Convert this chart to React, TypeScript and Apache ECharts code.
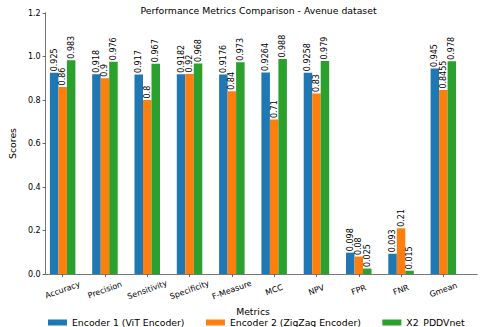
import React, { useEffect, useRef } from "react";
import * as echarts from "echarts";

const categories = ["Accuracy", "Precision", "Sensitivity", "Specificity", "F-Measure", "MCC", "NPV", "FPR", "FNR", "Gmean"];
const encoder1 = [0.925, 0.918, 0.917, 0.9182, 0.9176, 0.9264, 0.9258, 0.098, 0.093, 0.945];
const encoder2 = [0.86, 0.9, 0.8, 0.92, 0.84, 0.71, 0.83, 0.08, 0.21, 0.8455];
const x2pddv = [0.983, 0.976, 0.967, 0.968, 0.973, 0.988, 0.979, 0.025, 0.015, 0.978];
const seriesNames = ["Encoder 1 (ViT Encoder)", "Encoder 2 (ZigZag Encoder)", "X2_PDDVnet"];
const colors = ["#1f77b4", "#ff7f0e", "#2ca02c"];
const yTicks = { min: 0, max: 1.2, interval: 0.2 };

const FONT = "DejaVu Sans";

export default function App() {
  const ref = useRef<HTMLDivElement>(null);
  useEffect(() => {
    if (!ref.current) return;
    const chart = echarts.init(ref.current, undefined, { renderer: "svg" });
    const data = [encoder1, encoder2, x2pddv];
    const frameLine = { show: true, lineStyle: { color: "#777", width: 1 } };
    chart.setOption({
      animation: false,
      backgroundColor: "#ffffff",
      title: {
        text: "Performance Metrics Comparison - Avenue dataset",
        left: 253.5,
        top: 1,
        textAlign: "center",
        textStyle: { fontFamily: FONT, fontSize: 9.3, fontWeight: "normal", color: "#000" },
      },
      legend: {
        left: 43,
        top: 313,
        itemWidth: 19,
        itemHeight: 6,
        itemGap: 21.5,
        icon: "rect",
        textStyle: { fontFamily: FONT, fontSize: 9.3, color: "#000" },
        data: seriesNames,
      },
      grid: [
        { left: 30, right: 3, top: 13, bottom: 53, containLabel: false },
        { left: 41.5, right: 15.5, top: 13, bottom: 53, containLabel: false },
      ],
      xAxis: [
        {
          type: "value",
          gridIndex: 0,
          position: "bottom",
          min: 0,
          max: 1,
          axisLine: frameLine,
          axisTick: { show: false },
          axisLabel: { show: false },
          splitLine: { show: false },
        },
        {
          type: "category",
          gridIndex: 1,
          data: categories,
          name: "Metrics",
          nameLocation: "middle",
          nameGap: 33,
          nameTextStyle: { fontFamily: FONT, fontSize: 9.3, color: "#000" },
          axisLine: { show: false },
          axisTick: { show: true, alignWithLabel: true, length: 3, lineStyle: { color: "#666" } },
          axisLabel: {
            rotate: 20,
            align: "center",
            verticalAlign: "middle",
            margin: 16,
            fontFamily: FONT,
            fontSize: 8,
            color: "#000",
          },
          splitLine: { show: false },
        },
        {
          type: "value",
          gridIndex: 0,
          position: "top",
          min: 0,
          max: 1,
          axisLine: frameLine,
          axisTick: { show: false },
          axisLabel: { show: false },
          splitLine: { show: false },
        },
      ],
      yAxis: [
        {
          type: "value",
          gridIndex: 0,
          position: "left",
          min: yTicks.min,
          max: yTicks.max,
          interval: yTicks.interval,
          name: "Scores",
          nameLocation: "middle",
          nameGap: 24,
          nameTextStyle: { fontFamily: FONT, fontSize: 9.3, color: "#000" },
          axisLine: frameLine,
          axisTick: { show: true, length: 3, lineStyle: { color: "#666" } },
          axisLabel: {
            margin: 5,
            fontFamily: FONT,
            fontSize: 8,
            color: "#000",
            formatter: (v: number) => v.toFixed(1),
          },
          splitLine: { show: false },
        },
        {
          type: "value",
          gridIndex: 1,
          min: yTicks.min,
          max: yTicks.max,
          interval: yTicks.interval,
          show: false,
          splitLine: { show: false },
        },
        {
          type: "value",
          gridIndex: 0,
          position: "right",
          min: yTicks.min,
          max: yTicks.max,
          interval: yTicks.interval,
          axisLine: frameLine,
          axisTick: { show: false },
          axisLabel: { show: false },
          splitLine: { show: false },
        },
      ],
      series: data.map((d, i) => ({
        type: "bar",
        name: seriesNames[i],
        xAxisIndex: 1,
        yAxisIndex: 1,
        data: d,
        barWidth: 8.5,
        barGap: "0%",
        itemStyle: { color: colors[i] },
        label: {
          show: true,
          position: "top",
          rotate: 90,
          align: "left",
          verticalAlign: "middle",
          distance: 1.5,
          fontFamily: FONT,
          fontSize: 8,
          color: "#000",
          formatter: (p: any) => String(p.value),
        },
      })),
    });
    return () => chart.dispose();
  }, []);
  return (
    <div
      ref={ref}
      style={{ position: "fixed", left: 0, top: 0, width: 480, height: 327, background: "#fff" }}
    />
  );
}
